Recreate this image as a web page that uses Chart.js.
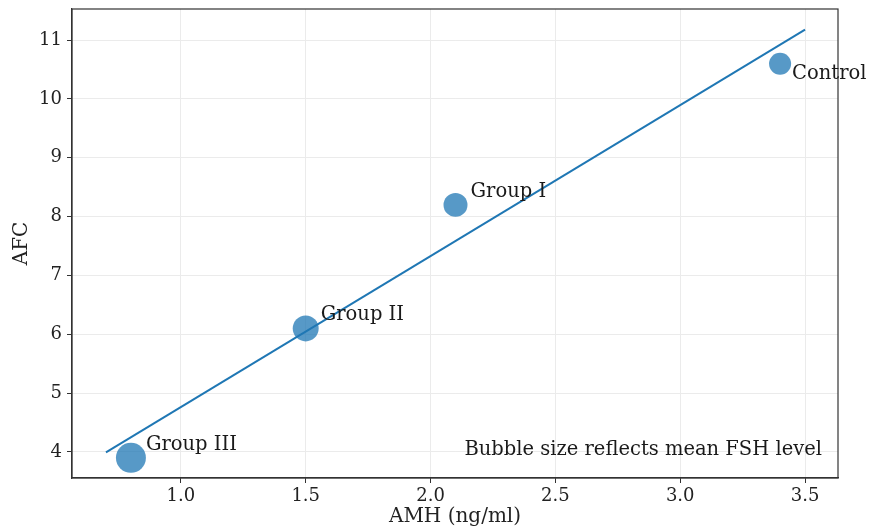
<!DOCTYPE html>
<html>
<head>
<meta charset="utf-8">
<title>AMH vs AFC</title>
<script src="https://cdn.jsdelivr.net/npm/chart.js"></script>
<style>
  html, body { margin: 0; padding: 0; background: #fff; }
  #wrap { width: 869px; height: 529px; }
</style>
</head>
<body>
<div id="wrap"><canvas id="chart" width="869" height="529"></canvas></div>
<script>
const groups = ["Control", "Group I", "Group II", "Group III"];
const amh = [3.4, 2.1, 1.5, 0.8];
const afc = [10.6, 8.2, 6.1, 3.9];
const fsh = [6.0, 7.1, 8.3, 11.1];
const xTicks = [1.0, 1.5, 2.0, 2.5, 3.0, 3.5];
const yTicks = [4, 5, 6, 7, 8, 9, 10, 11];
const fitRange = [0.7, 3.5];

// least squares fit for the trend line
const mx = amh.reduce((a, b) => a + b, 0) / amh.length;
const my = afc.reduce((a, b) => a + b, 0) / afc.length;
let sxy = 0, sxx = 0;
amh.forEach((x, i) => { sxy += (x - mx) * (afc[i] - my); sxx += (x - mx) * (x - mx); });
const slope = sxy / sxx;
const icpt = my - slope * mx;

const FONT = "'DejaVu Serif', serif";

const frame = {
  id: "frame",
  afterDatasetsDraw(chart) {
    const { ctx, chartArea: a } = chart;
    ctx.save();
    ctx.strokeStyle = "#333";
    ctx.lineWidth = 1.2;
    ctx.strokeRect(a.left, a.top, a.right - a.left, a.bottom - a.top);

    const meta = chart.getDatasetMeta(1);
    ctx.fillStyle = "#1a1a1a";
    ctx.font = "19.5px " + FONT;
    ctx.textBaseline = "middle";
    ctx.textAlign = "left";
    meta.data.forEach((pt, i) => {
      const dx = i === 0 ? 12 : 15;
      const dy = i === 0 ? 10 : -13;
      ctx.fillText(groups[i], pt.x + dx, pt.y + dy);
    });

    ctx.textAlign = "right";
    ctx.fillText("Bubble size reflects mean FSH level", a.right - 16, a.bottom - 28);
    ctx.restore();
  }
};

new Chart(document.getElementById("chart"), {
  type: "bubble",
  data: {
    datasets: [
      {
        type: "line",
        data: fitRange.map(x => ({ x: x, y: icpt + slope * x })),
        borderColor: "#1f77b4",
        borderWidth: 2,
        pointRadius: 0,
        fill: false,
        order: 0
      },
      {
        data: amh.map((x, i) => ({ x: x, y: afc[i], r: 4.5 * Math.sqrt(fsh[i]) })),
        backgroundColor: "rgba(31,119,180,0.75)",
        borderColor: "rgba(31,119,180,0.75)",
        borderWidth: 0,
        order: 1
      }
    ]
  },
  options: {
    responsive: false,
    animation: false,
    layout: { autoPadding: false, padding: { left: 0, right: 31, top: 9, bottom: 0 } },
    plugins: { legend: { display: false }, tooltip: { enabled: false } },
    scales: {
      x: {
        type: "linear",
        min: 0.564,
        max: 3.632,
        afterBuildTicks: s => { s.ticks = xTicks.map(v => ({ value: v })); },
        afterFit: s => { s.height = 51; s.paddingLeft = 0; s.paddingRight = 0; },
        ticks: {
          color: "#222",
          font: { family: FONT, size: 18 },
          padding: 3,
          maxRotation: 0,
          callback: v => v.toFixed(1)
        },
        grid: { color: "#ebebeb", tickColor: "#333", tickLength: 5, lineWidth: 1 },
        border: { color: "#333", width: 1.2 },
        title: {
          display: true,
          text: "AMH (ng/ml)",
          color: "#222",
          font: { family: FONT, size: 20 },
          padding: { top: 0, bottom: 0 }
        }
      },
      y: {
        type: "linear",
        min: 3.557,
        max: 11.53,
        afterBuildTicks: s => { s.ticks = yTicks.map(v => ({ value: v })); },
        afterFit: s => { s.width = 72; s.paddingTop = 0; s.paddingBottom = 0; },
        ticks: {
          color: "#222",
          font: { family: FONT, size: 18 },
          padding: 5,
          callback: v => String(v)
        },
        grid: { color: "#ebebeb", tickColor: "#333", tickLength: 5, lineWidth: 1 },
        border: { color: "#333", width: 1.2 },
        title: {
          display: true,
          text: "AFC",
          color: "#222",
          font: { family: FONT, size: 20 },
          padding: { top: 10, bottom: 0 }
        }
      }
    }
  },
  plugins: [frame]
});
</script>
</body>
</html>
